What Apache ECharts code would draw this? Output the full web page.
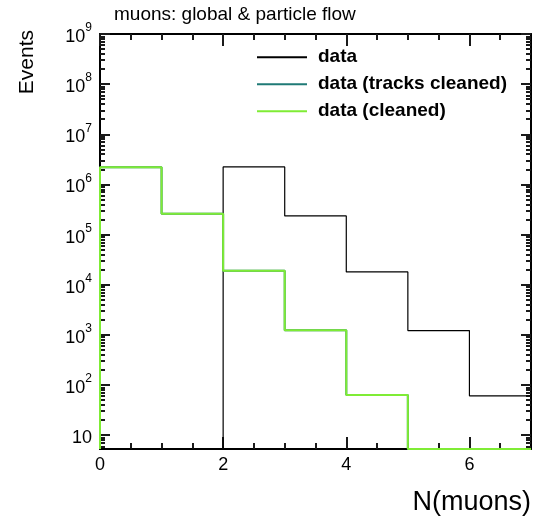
<!DOCTYPE html>
<html>
<head>
<meta charset="utf-8">
<script src="https://cdn.jsdelivr.net/npm/echarts@6/dist/echarts.min.js"></script>
<style>
  html, body { margin: 0; padding: 0; background: #fff; }
  #chart { width: 534px; height: 523px; }
</style>
</head>
<body>
<div id="chart"></div>
<script>
// Muon multiplicity, one bin per integer N(muons)
const binEdges = [0, 1, 2, 3, 4, 5, 6, 7];
const seriesNames = ['data', 'data (tracks cleaned)', 'data (cleaned)'];
const dataCounts = [0, 0, 2.24e6, 2.36e5, 1.80e4, 1.22e3, 61];
const tracksCleanedCounts = [2.21e6, 2.61e5, 1.89e4, 1.24e3, 63, 0, 0];
const cleanedCounts = [2.21e6, 2.61e5, 1.89e4, 1.24e3, 63, 0, 0];
const xTickLabels = [0, 2, 4, 6];
const yExponents = [1, 2, 3, 4, 5, 6, 7, 8, 9];

const Y_MIN = 5.3;
const Y_MAX = 1e9;
const FONT = "'Liberation Sans', Arial, Helvetica, sans-serif";
const colors = ['#000000', '#1f7a76', '#7fec35'];
const widths = [1.2, 2, 2];
const TICK = '#1a1a1a';

// Empty bins sit on the frame bottom, as in a ROOT histogram
function stepPoints(counts) {
  const pts = [[binEdges[0], Y_MIN]];
  counts.forEach((c, i) => pts.push([binEdges[i], c > 0 ? c : Y_MIN]));
  const last = counts[counts.length - 1];
  pts.push([binEdges[binEdges.length - 1], last > 0 ? last : Y_MIN]);
  return pts;
}

const yMajors = yExponents.map(e => Math.pow(10, e));
const yMinors = [];
for (let e = 0; e < 9; e++) {
  for (let k = 2; k <= 9; k++) {
    const v = k * Math.pow(10, e);
    if (v > Y_MIN && v < Y_MAX) yMinors.push(v);
  }
}
const xMinors = [];
for (let v = 0.5; v < 7; v += 0.5) xMinors.push(v);

// Labels, frame lines, major ticks and minor ticks each sit on their own overlapping axis
function yAxisDef(position, ticks, len, showLabel, showLine) {
  return {
    type: 'log', logBase: 10, min: Y_MIN, max: Y_MAX, position: position,
    axisLine: { show: showLine, onZero: false, lineStyle: { color: '#000', width: 2 } },
    axisTick: ticks ? { show: true, inside: true, length: len, customValues: ticks,
      lineStyle: { color: TICK, width: 2 } } : { show: false },
    axisLabel: {
      show: showLabel, customValues: yMajors, margin: 8,
      formatter: v => {
        const e = Math.round(Math.log10(v));
        return e === 1 ? '{b|10}' : '{b|10}{s|' + e + '}';
      },
      rich: {
        b: { fontFamily: FONT, fontSize: 18, color: '#000', lineHeight: 24, verticalAlign: 'bottom' },
        s: { fontFamily: FONT, fontSize: 12, color: '#000', lineHeight: 24, verticalAlign: 'top' }
      }
    },
    splitLine: { show: false }, minorTick: { show: false }
  };
}

function xAxisDef(position, ticks, len, showLabel, showLine) {
  return {
    type: 'value', min: 0, max: 7, position: position,
    axisLine: { show: showLine, onZero: false, lineStyle: { color: '#000', width: 2 } },
    axisTick: { show: true, inside: true, length: len, customValues: ticks,
      lineStyle: { color: TICK, width: 2 } },
    axisLabel: { show: showLabel, customValues: xTickLabels, margin: 7,
      fontFamily: FONT, fontSize: 18, color: '#000' },
    splitLine: { show: false }
  };
}

const xAxes = [
  xAxisDef('bottom', xTickLabels, 12, true, true),
  xAxisDef('bottom', xMinors, 6, false, false),
  xAxisDef('top', xTickLabels, 12, false, true),
  xAxisDef('top', xMinors, 6, false, false)
];
xAxes[0].name = 'N(muons)';
xAxes[0].nameLocation = 'end';
xAxes[0].nameGap = 0;
xAxes[0].nameTextStyle = { fontFamily: FONT, fontSize: 27, color: '#000',
  align: 'right', verticalAlign: 'top', padding: [40, 0, 0, 0] };

const yAxes = [
  yAxisDef('left', null, 0, true, true),
  yAxisDef('left', yMajors, 10, false, false),
  yAxisDef('left', yMinors, 5, false, false),
  yAxisDef('right', yMajors, 10, false, true),
  yAxisDef('right', yMinors, 5, false, false)
];

const countsList = [dataCounts, tracksCleanedCounts, cleanedCounts];

const option = {
  animation: false,
  backgroundColor: '#ffffff',
  title: {
    text: 'muons: global & particle flow', left: 109, top: 0,
    textStyle: { fontFamily: FONT, fontSize: 19, fontWeight: 'normal', color: '#000' }
  },
  grid: { left: 100, right: 1, top: 34, bottom: 74, containLabel: false },
  legend: {
    orient: 'vertical', left: 252, top: 42, padding: 5,
    icon: 'rect', itemWidth: 50, itemHeight: 2, itemGap: 6.5,
    data: seriesNames,
    textStyle: { fontFamily: FONT, fontSize: 19, fontWeight: 'bold', color: '#000',
      lineHeight: 20.5, padding: [0, 0, 0, 6] },
    selectedMode: false
  },
  graphic: [{
    type: 'text', x: 27, y: 30, rotation: Math.PI / 2,
    style: { text: 'Events', fontFamily: FONT, fontSize: 21, fill: '#000',
      align: 'right', verticalAlign: 'middle' }
  }],
  xAxis: xAxes,
  yAxis: yAxes,
  series: seriesNames.map((name, i) => ({
    name: name, type: 'line', step: 'end',
    xAxisIndex: 0, yAxisIndex: 0,
    symbol: 'none', showSymbol: false,
    color: colors[i],
    lineStyle: { color: colors[i], width: widths[i] },
    data: stepPoints(countsList[i]),
    z: 2 + i
  }))
};

echarts.init(document.getElementById('chart'), null, { renderer: 'canvas' }).setOption(option);
</script>
</body>
</html>
